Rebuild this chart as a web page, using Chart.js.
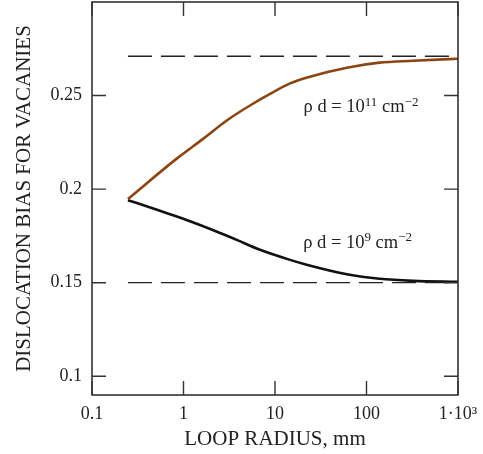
<!DOCTYPE html>
<html>
<head>
<meta charset="utf-8">
<script src="https://cdn.jsdelivr.net/npm/chart.js@4/dist/chart.umd.min.js"></script>
<style>
  html, body { margin: 0; padding: 0; background: #fff; }
  #wrap { width: 483px; height: 454px; }
</style>
</head>
<body>
<div id="wrap"><canvas id="grafico"></canvas></div>
<script>
// dados
const xTicks = [0.1, 1, 10, 100, 1000];
const xTickLabels = ['0.1', '1', '10', '100', '1·10³'];
const yTicks = [0.1, 0.15, 0.2, 0.25];
const yTickLabels = ['0.1', '0.15', '0.2', '0.25'];

// rho d = 1e11 cm^-2 (curva marrom)
const raioAlto = [0.247, 0.843, 1.65, 2.97, 5.33, 8.82, 14.6, 24.1, 61, 139, 322, 1000];
const biasAlto = [0.1947, 0.2163, 0.2270, 0.2367, 0.2447, 0.2509, 0.2565, 0.2601, 0.2649, 0.2676, 0.2686, 0.2697];

// rho d = 1e9 cm^-2 (curva preta)
const raioBaixo = [0.247, 0.513, 0.712, 1.18, 2.12, 3.81, 6.86, 14.6, 22.2, 61, 139, 322, 1000];
const biasBaixo = [0.1941, 0.1890, 0.1866, 0.1828, 0.1780, 0.1729, 0.1676, 0.1622, 0.1596, 0.1545, 0.1521, 0.151, 0.1505];

// limites assintóticos (tracejados)
const raioLimite = [0.247, 1000];
const limiteAlto = [0.271, 0.271];
const limiteBaixo = [0.15, 0.15];

// rótulos das curvas: [x, y] em coordenadas de dados
const rotuloAlto = { x: 87, y: 0.2436, expoente: '11' };
const rotuloBaixo = { x: 80, y: 0.1713, expoente: '9' };

const FONTE = '"Liberation Serif", "DejaVu Serif", serif';

function pontos(xs, ys) {
    return xs.map((x, i) => ({ x: x, y: ys[i] }));
}

// desenha moldura, ticks internos e os rótulos das curvas
const molduraPlugin = {
    id: 'moldura',
    afterDraw(chart) {
        const ctx = chart.ctx;
        const a = chart.chartArea;
        const sx = chart.scales.x;
        const sy = chart.scales.y;
        const tam = 14;

        ctx.save();
        ctx.strokeStyle = '#333';
        ctx.lineWidth = 1.6;
        ctx.strokeRect(a.left, a.top, a.right - a.left, a.bottom - a.top);

        ctx.lineWidth = 1.4;
        ctx.beginPath();
        xTicks.forEach(v => {
            const px = sx.getPixelForValue(v);
            ctx.moveTo(px, a.bottom); ctx.lineTo(px, a.bottom - tam);
            ctx.moveTo(px, a.top); ctx.lineTo(px, a.top + tam);
        });
        yTicks.forEach(v => {
            const py = sy.getPixelForValue(v);
            ctx.moveTo(a.left, py); ctx.lineTo(a.left + tam, py);
            ctx.moveTo(a.right, py); ctx.lineTo(a.right - tam, py);
        });
        ctx.stroke();

        [rotuloAlto, rotuloBaixo].forEach(r => {
            desenharRotulo(ctx, sx.getPixelForValue(r.x), sy.getPixelForValue(r.y), r.expoente);
        });
        ctx.restore();
    }
};

function desenharRotulo(ctx, cx, cy, expoente) {
    const base = '18.5px ' + FONTE;
    const sup = '13px ' + FONTE;
    const partes = [
        { t: 'ρ d = 10', f: base, dy: 0 },
        { t: expoente, f: sup, dy: -5 },
        { t: ' cm', f: base, dy: 0 },
        { t: '−2', f: sup, dy: -5 }
    ];
    let largura = 0;
    partes.forEach(p => { ctx.font = p.f; largura += ctx.measureText(p.t).width; });
    let x = cx - largura / 2;
    ctx.fillStyle = '#222';
    ctx.textBaseline = 'middle';
    ctx.textAlign = 'left';
    partes.forEach(p => {
        ctx.font = p.f;
        ctx.fillText(p.t, x, cy + p.dy);
        x += ctx.measureText(p.t).width;
    });
}

const ctxGrafico = document.getElementById('grafico').getContext('2d');
new Chart(ctxGrafico, {
    type: 'line',
    data: {
        datasets: [
            { data: pontos(raioLimite, limiteAlto), borderColor: '#222', borderWidth: 1.3, borderDash: [24, 9], pointRadius: 0 },
            { data: pontos(raioLimite, limiteBaixo), borderColor: '#222', borderWidth: 1.3, borderDash: [24, 9], pointRadius: 0 },
            { data: pontos(raioAlto, biasAlto), borderColor: '#8B4513', borderWidth: 2.6, pointRadius: 0, cubicInterpolationMode: 'monotone' },
            { data: pontos(raioBaixo, biasBaixo), borderColor: '#111', borderWidth: 2.6, pointRadius: 0, cubicInterpolationMode: 'monotone' }
        ]
    },
    options: {
        responsive: true,
        maintainAspectRatio: false,
        animation: false,
        layout: { padding: { top: 2, right: 25, left: 0, bottom: 0 } },
        plugins: {
            legend: { display: false },
            tooltip: { enabled: false }
        },
        scales: {
            x: {
                type: 'logarithmic',
                min: 0.1,
                max: 1000,
                afterBuildTicks: s => { s.ticks = xTicks.map(v => ({ value: v })); },
                afterFit: s => { s.height = 59; s.paddingLeft = 0; s.paddingRight = 0; },
                grid: { display: false, drawTicks: false },
                border: { display: false },
                ticks: {
                    autoSkip: false,
                    maxRotation: 0,
                    padding: 8,
                    color: '#222',
                    font: { family: FONTE, size: 18 },
                    callback: (v, i) => xTickLabels[i]
                },
                title: {
                    display: true,
                    text: 'LOOP RADIUS, mm',
                    color: '#222',
                    font: { family: FONTE, size: 21 },
                    padding: { top: 0, bottom: 2 }
                }
            },
            y: {
                type: 'linear',
                min: 0.09,
                max: 0.3,
                afterBuildTicks: s => { s.ticks = yTicks.map(v => ({ value: v })); },
                afterFit: s => { s.width = 92; s.paddingTop = 0; s.paddingBottom = 0; },
                grid: { display: false, drawTicks: false },
                border: { display: false },
                ticks: {
                    padding: 10,
                    color: '#222',
                    font: { family: FONTE, size: 18 },
                    callback: (v, i) => yTickLabels[i]
                },
                title: {
                    display: true,
                    text: 'DISLOCATION BIAS FOR VACANIES',
                    color: '#222',
                    font: { family: FONTE, size: 21 },
                    padding: { top: 12, bottom: 0 }
                }
            }
        }
    },
    plugins: [molduraPlugin]
});
</script>
</body>
</html>
